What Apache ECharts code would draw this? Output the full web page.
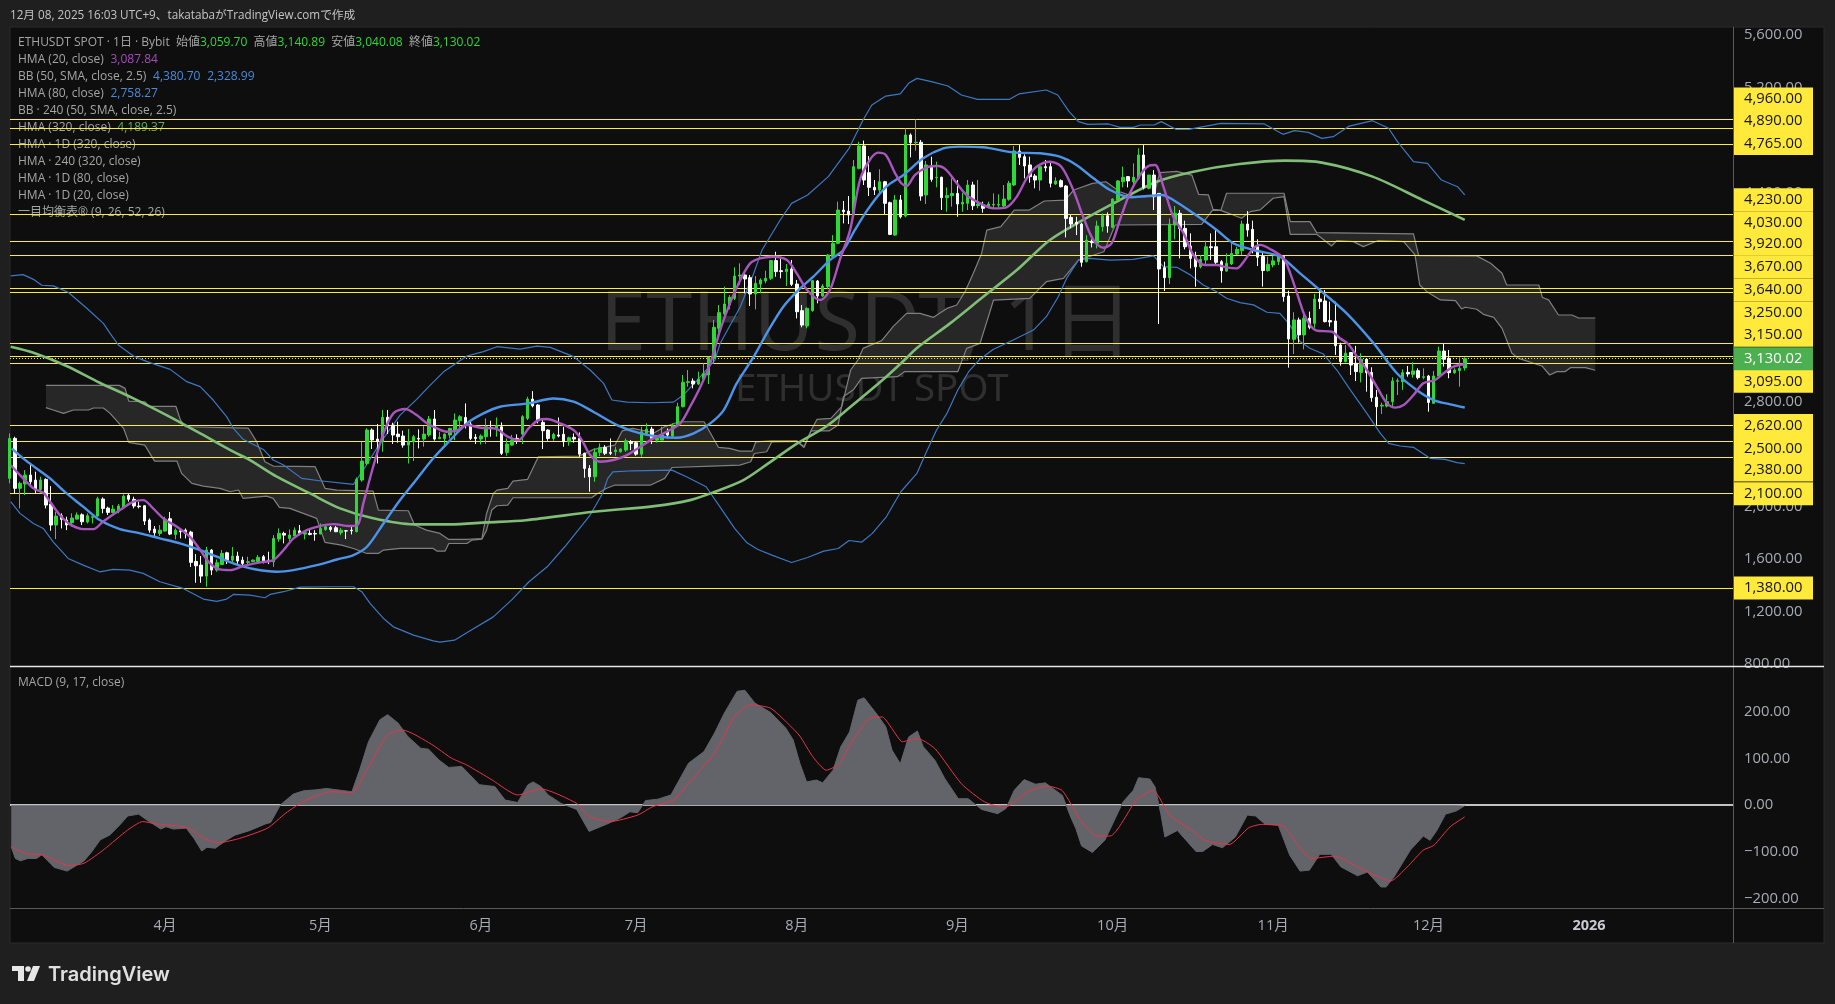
<!DOCTYPE html>
<html>
<head>
<meta charset="utf-8">
<title>ETHUSDT</title>
<style>
  html, body { margin: 0; padding: 0; background: #1f1f1f; }
  #chart { width: 1835px; height: 1004px; }
</style>
<script src="https://cdn.jsdelivr.net/npm/echarts@6/dist/echarts.min.js"></script>
</head>
<body>
<div id="chart"></div>
<script>
// daily candles from 2025-03-02, one row per day: open, close, low, high
const candles = [
  [2217,2522,2179,2560],[2522,2141,2102,2535],[2141,2179,1988,2191],[2174,2242,2090,2280],[2242,2191,2158,2331],
  [2204,2128,2102,2268],[2133,2204,2102,2230],[2209,2013,1988,2217],[2021,1861,1817,2158],[1861,1929,1754,1962],
  [1932,1904,1835,1950],[1899,1861,1822,1924],[1878,1914,1848,1950],[1906,1937,1904,1957],[1939,1886,1861,1950],
  [1884,1932,1873,1950],[1920,1924,1873,1937],[1929,2062,1924,2077],[2059,1988,1950,2072],[1990,1957,1937,2001],
  [1957,1983,1950,2013],[1968,2006,1950,2021],[1995,2082,1988,2095],[2087,2057,2039,2097],[2057,2006,1988,2077],
  [2006,2001,1988,2039],[2008,1891,1861,2013],[1899,1822,1802,1911],[1830,1802,1772,1853],[1797,1822,1777,1861],
  [1815,1904,1810,1924],[1909,1792,1784,1960],[1789,1822,1751,1835],[1817,1810,1759,1835],[1822,1797,1759,1835],
  [1807,1576,1542,1817],[1583,1550,1420,1639],[1555,1471,1420,1624],[1471,1670,1390,1695],[1670,1517,1479,1677],
  [1517,1573,1504,1598],[1560,1644,1555,1670],[1649,1593,1563,1657],[1593,1624,1568,1693],[1624,1586,1555,1657],
  [1593,1568,1542,1619],[1576,1581,1555,1619],[1583,1593,1576,1598],[1583,1614,1578,1632],[1619,1586,1568,1632],
  [1593,1588,1563,1657],[1581,1759,1542,1784],[1754,1797,1733,1835],[1797,1784,1721,1810],[1759,1784,1738,1827],
  [1777,1822,1777,1843],[1817,1797,1784,1861],[1792,1802,1751,1817],[1797,1789,1782,1835],[1797,1792,1741,1822],
  [1792,1835,1792,1873],[1827,1848,1817,1861],[1843,1827,1810,1853],[1840,1810,1807,1853],[1802,1822,1784,1838],
  [1817,1815,1754,1822],[1822,1817,1789,1848],[1810,2209,1805,2225],[2204,2349,2191,2497],[2331,2586,2319,2599],
  [2586,2510,2441,2599],[2517,2497,2331,2632],[2497,2683,2420,2739],[2683,2617,2555,2739],[2624,2548,2479,2642],
  [2555,2535,2489,2650],[2540,2471,2451,2581],[2471,2497,2331,2594],[2497,2535,2349,2548],[2522,2517,2446,2591],
  [2517,2555,2459,2616],[2548,2670,2535,2693],[2670,2517,2505,2739],[2520,2530,2517,2573],[2522,2555,2464,2560],
  [2548,2598,2522,2603],[2581,2662,2509,2713],[2657,2688,2586,2700],[2682,2624,2598,2789],[2632,2522,2509,2649],
  [2530,2522,2479,2555],[2517,2540,2476,2553],[2535,2611,2479,2675],[2606,2598,2535,2657],[2598,2619,2535,2682],
  [2611,2408,2395,2644],[2415,2479,2390,2522],[2471,2509,2466,2548],[2522,2504,2479,2553],[2555,2688,2479,2700],
  [2675,2822,2662,2840],[2822,2771,2759,2883],[2777,2657,2637,2784],[2644,2581,2441,2675],[2586,2522,2504,2591],
  [2522,2553,2504,2565],[2548,2540,2530,2682],[2553,2497,2458,2611],[2497,2527,2466,2535],[2530,2517,2489,2560],
  [2522,2402,2382,2568],[2408,2293,2222,2413],[2293,2229,2115,2318],[2229,2415,2191,2446],[2415,2453,2387,2484],
  [2453,2408,2395,2471],[2415,2408,2395,2522],[2420,2433,2390,2458],[2420,2441,2413,2446],[2433,2504,2420,2522],
  [2497,2484,2433,2509],[2489,2402,2390,2502],[2402,2573,2382,2611],[2560,2593,2547,2637],[2593,2522,2479,2611],
  [2509,2522,2489,2548],[2509,2548,2509,2611],[2573,2548,2522,2598],[2540,2624,2530,2637],[2624,2764,2611,2794],
  [2764,2950,2759,3006],[2950,2955,2917,3044],[2960,2937,2904,2980],[2937,2975,2929,3031],[2975,3018,2967,3095],
  [3006,3141,2937,3146],[3133,3370,3090,3426],[3362,3482,3311,3540],[3471,3548,3438,3680],[3540,3599,3507,3616],
  [3591,3761,3578,3828],[3761,3769,3693,3858],[3769,3739,3629,3782],[3749,3624,3532,3769],[3624,3706,3507,3761],
  [3700,3731,3629,3744],[3723,3744,3706,3802],[3744,3879,3731,3884],[3879,3795,3756,3947],[3802,3795,3744,3896],
  [3795,3815,3685,3853],[3815,3698,3685,3884],[3700,3489,3438,3731],[3497,3387,3370,3540],[3380,3515,3362,3522],
  [3497,3726,3489,3731],[3723,3609,3553,3731],[3609,3685,3604,3700],[3680,3922,3660,3929],[3909,4011,3896,4074],
  [4011,4265,4006,4329],[4265,4252,4163,4334],[4257,4227,4158,4372],[4227,4596,4214,4647],[4583,4754,4576,4787],
  [4754,4494,4456,4795],[4550,4438,4372,4677],[4438,4418,4380,4494],[4418,4481,4380,4576],[4481,4316,4235,4487],
  [4321,4079,4074,4329],[4074,4342,4067,4380],[4342,4214,4201,4380],[4219,4838,4209,4889],[4838,4779,4667,4850],
  [4779,4782,4718,4957],[4782,4372,4336,4800],[4380,4609,4311,4639],[4596,4499,4481,4672],[4512,4515,4438,4634],
  [4515,4359,4265,4520],[4359,4375,4252,4438],[4375,4392,4291,4507],[4392,4311,4214,4494],[4311,4324,4252,4397],
  [4316,4456,4265,4494],[4456,4298,4265,4481],[4298,4311,4278,4494],[4303,4278,4245,4329],[4285,4311,4278,4329],
  [4303,4308,4278,4392],[4303,4308,4278,4385],[4296,4349,4278,4456],[4347,4469,4336,4487],[4456,4716,4448,4754],
  [4716,4667,4609,4761],[4672,4601,4507,4690],[4609,4520,4474,4672],[4525,4494,4431,4540],[4494,4596,4413,4609],
  [4596,4588,4558,4647],[4596,4469,4438,4634],[4464,4487,4456,4515],[4489,4443,4438,4499],[4448,4201,4056,4456],
  [4209,4158,4125,4227],[4171,4158,4074,4214],[4158,3866,3832,4168],[3871,4036,3866,4074],[4026,4016,3980,4041],
  [4011,4143,3972,4184],[4138,4222,4100,4240],[4222,4143,4092,4247],[4133,4349,4125,4354],[4342,4487,4334,4494],
  [4481,4515,4438,4596],[4520,4487,4438,4525],[4481,4515,4438,4621],[4507,4685,4494,4736],[4685,4438,4423,4761],
  [4431,4532,4423,4532],[4532,4367,4265,4570],[4392,3815,3395,4392],[3825,3749,3647,3871],[3749,4158,3700,4201],
  [4151,4240,4041,4296],[4240,4125,3896,4265],[4125,3985,3965,4184],[3990,3896,3820,4087],[3909,3832,3680,3947],
  [3832,3888,3820,3922],[3883,3985,3845,4031],[3985,3978,3883,4087],[3985,3866,3845,4112],[3871,3802,3710,3883],
  [3799,3858,3795,3934],[3853,3934,3845,4023],[3929,3965,3922,3985],[3955,4158,3922,4184],[4158,4112,4062,4257],
  [4118,3986,3935,4184],[3986,3905,3838,4042],[3910,3803,3681,3948],[3803,3851,3795,3910],[3846,3877,3828,3915],
  [3871,3910,3846,3922],[3910,3604,3566,3915],[3609,3281,3062,3650],[3278,3426,3166,3485],[3426,3312,3253,3444],
  [3312,3439,3202,3490],[3439,3370,3355,3490],[3400,3586,3367,3625],[3586,3566,3510,3660],[3571,3413,3408,3655],
  [3421,3411,3375,3566],[3418,3230,3159,3566],[3235,3108,3077,3253],[3108,3172,3103,3235],[3177,3082,3006,3179],
  [3095,3032,2960,3228],[3026,3126,2950,3172],[3126,3024,2879,3133],[3026,2833,2802,3065],[2836,2764,2624,2892],
  [2769,2775,2708,2795],[2769,2802,2759,2859],[2802,2960,2769,2988],[2958,2963,2853,2981],[2955,3024,2892,3049],
  [3026,3014,2993,3075],[3011,3037,2986,3103],[3039,2986,2973,3057],[2988,2993,2973,3057],[2998,2797,2726,3006],
  [2790,2998,2785,3037],[2998,3189,2993,3223],[3189,3126,3070,3243],[3133,3024,2981,3197],[3024,3044,3014,3057],
  [3039,3057,2917,3141],[3059.70,3130.02,3040.08,3140.89]
]

const hma20 = [[1.2,2319],[3,2242],[5.6,2141],[7.5,2107],[8.8,2039],[10.7,1937],[12.6,1868],[15.2,1830],[17.2,1830],[19,1886],[22.3,1975],[24.9,2039],[26.8,2051],[28.7,1988],[30.7,1911],[33.3,1848],[35.8,1772],[37.8,1670],[39.7,1568],[41.6,1522],[43.6,1517],[46.1,1548],[49.4,1576],[51.9,1593],[53.9,1670],[55.8,1759],[58.4,1822],[60.9,1853],[63.5,1868],[66.7,1853],[68.2,1861],[69.3,2026],[71.2,2306],[73.2,2560],[75.1,2713],[77.4,2746],[79.6,2700],[81.6,2637],[83.5,2598],[85.4,2573],[87.3,2581],[89.3,2624],[91.9,2603],[95.1,2593],[97,2540],[99.3,2509],[101.2,2598],[103.1,2662],[104.7,2670],[107.3,2637],[109.9,2586],[111.5,2509],[113.1,2395],[115,2344],[117.6,2357],[120.2,2395],[122.8,2458],[125.3,2522],[127.9,2573],[130.5,2637],[132.4,2764],[134.4,2917],[136.3,3095],[138.2,3349],[140.1,3553],[142.1,3731],[144,3858],[145.9,3896],[148.5,3909],[151.1,3884],[153,3782],[155,3655],[157.5,3578],[159.4,3654],[161.3,3883],[163.3,4112],[165.2,4494],[167.1,4647],[168.7,4703],[170.2,4685],[172,4545],[173.2,4469],[174.2,4448],[175.8,4532],[178.1,4591],[180.3,4601],[181.9,4570],[183.9,4469],[185.8,4380],[188.4,4316],[191,4278],[193.5,4286],[195.5,4367],[197.4,4507],[199.3,4596],[201.9,4634],[204.1,4596],[206.4,4418],[208.3,4214],[210.3,4036],[212.2,3977],[213.8,4011],[215.4,4189],[217.3,4392],[219.3,4532],[220.9,4601],[222.2,4609],[223.8,4443],[225.7,4214],[227.7,4087],[229.6,3922],[231.8,3845],[234.1,3845],[236,3827],[238,3820],[239.3,3871],[241.2,3973],[242.5,3999],[244.4,3968],[247,3897],[248.3,3782],[249.6,3630],[250.9,3477],[252.1,3388],[253.4,3345],[256.3,3337],[257.9,3286],[259.5,3243],[261.2,3146],[263.1,3044],[265,2917],[267,2790],[268.6,2757],[270.2,2777],[272.1,2853],[274,2943],[276.3,2968],[277.9,3019],[279.8,3070],[282,3087.84]]
const hma80 = [[1.4,2446],[3.6,2370],[6.2,2293],[8.8,2217],[12,2102],[15.2,2001],[18.4,1899],[22.3,1830],[26.2,1797],[30,1759],[33.9,1721],[37.8,1670],[41,1619],[44.2,1568],[48.1,1525],[52.6,1504],[55.8,1517],[60.3,1555],[64.2,1598],[67.4,1632],[70,1695],[73.2,1873],[76.4,2052],[79.6,2210],[82.8,2370],[86,2505],[89.3,2637],[92.5,2713],[95.7,2764],[101.2,2789],[106,2827],[109.9,2802],[113.7,2726],[118.3,2624],[122.8,2560],[126.6,2535],[129.8,2527],[133.1,2560],[136.3,2637],[138.9,2738],[141.4,2942],[144.7,3146],[147.2,3324],[150.4,3527],[153.6,3665],[156.2,3756],[159.4,3883],[162,3960],[164.2,4112],[167.1,4291],[170.3,4443],[173.6,4532],[177.4,4660],[181.3,4736],[184.5,4749],[189,4744],[194.8,4705],[200,4698],[203.8,4672],[207,4609],[210.3,4507],[213.5,4418],[217.4,4362],[220.6,4372],[223.5,4380],[225.7,4342],[229.6,4240],[234.1,4113],[237.3,4011],[241.2,3960],[246.3,3910],[250.2,3782],[254,3655],[259.2,3477],[264.4,3248],[268.9,3019],[272.7,2892],[276,2815],[279.2,2782],[282,2758.27]]
const bbUpper = [[1.2,3762],[3.6,3772],[5.6,3736],[7.2,3691],[9.4,3686],[12.3,3637],[15.9,3515],[19.1,3400],[20.4,3324],[22,3235],[24.9,3151],[27.5,3108],[32,3049],[35.2,2955],[37.8,2917],[40.3,2815],[42.9,2688],[44.2,2599],[46.1,2515],[50,2438],[51.9,2357],[53.9,2319],[57.4,2217],[60.9,2199],[67.4,2171],[69.3,2281],[72.5,2484],[76.4,2700],[79.6,2820],[81.9,2915],[84.8,3030],[89.3,3151],[92.5,3184],[95.1,3222],[99.6,3204],[102.8,3227],[105.4,3217],[109.9,3146],[113.1,3044],[115.7,2942],[117.3,2815],[120.2,2799],[124.7,2794],[129.2,2799],[131.1,2853],[133.8,2967],[137.2,3120],[138.2,3247],[142.1,3527],[144.7,3782],[146.3,3960],[149.8,4189],[152,4316],[155.1,4380],[159.1,4520],[163.1,4736],[165.8,4952],[167.5,5067],[170.2,5135],[173,5151],[174.6,5232],[176.2,5270],[179,5245],[182.2,5212],[184.8,5143],[187.9,5110],[194.1,5110],[195.9,5151],[201.2,5181],[203.4,5143],[205.6,5016],[207.4,4940],[209.2,4919],[213.2,4922],[215.4,4896],[218,4896],[219.4,4914],[222,4914],[223.4,4940],[226.2,4881],[228.7,4881],[234.9,4927],[243.3,4922],[246.9,4843],[249.1,4871],[251.8,4858],[254.4,4812],[256.6,4825],[259.7,4906],[264.2,4947],[267.3,4889],[269,4787],[272.1,4634],[274.8,4621],[277.5,4494],[280.6,4443],[282,4380.70]]
const bbLower = [[1.2,2039],[3,1950],[5.6,1873],[7.5,1835],[9.4,1733],[12.3,1606],[15.2,1555],[18.4,1504],[21,1522],[24.2,1517],[26.8,1492],[30,1428],[34.5,1377],[38.4,1296],[41,1278],[42.9,1296],[44.2,1331],[47.4,1326],[50.3,1306],[51.3,1331],[53.9,1352],[57.1,1387],[63.5,1390],[67.4,1390],[69,1352],[70.6,1263],[73.2,1148],[75.1,1084],[79,1021],[82.8,977],[84.1,967],[86.9,982],[89.6,1046],[94.4,1160],[97.9,1288],[101.3,1428],[104.8,1542],[108.2,1695],[113.1,1937],[115.5,2102],[116.5,2217],[117.5,2267],[121.3,2275],[128.9,2280],[131.7,2229],[135.5,2153],[138.6,1975],[141,1835],[143.4,1725],[145.5,1674],[148.2,1631],[152,1575],[155.1,1613],[158.2,1662],[161,1682],[163.1,1743],[165.5,1730],[167.6,1797],[170.3,1924],[173.1,2115],[176.2,2255],[177.9,2407],[180,2586],[182,2713],[184.1,2891],[186.2,3031],[188.2,3120],[190.9,3201],[194.8,3273],[198.7,3349],[201.2,3451],[203.5,3603],[205.1,3743],[207.4,3883],[209.6,3896],[213.5,3883],[218,3888],[221.9,3915],[223.8,3833],[226.4,3828],[229,3770],[231.5,3693],[234.1,3642],[236,3592],[238.6,3558],[241.2,3541],[243.8,3485],[246.3,3477],[248,3400],[250.2,3261],[252.1,3210],[254.7,3166],[257.3,3044],[259.9,2892],[263.1,2713],[265.7,2561],[267.3,2484],[269.5,2464],[272.1,2454],[275.3,2370],[278.2,2362],[280.5,2337],[282,2328.99]]
const hma320 = [[1.2,3222],[5.6,3176],[12,3075],[18.4,2947],[24.9,2828],[31.3,2700],[37.8,2561],[44.2,2421],[47.4,2357],[52.6,2230],[59,2102],[64.8,1988],[71.2,1912],[79,1866],[86,1866],[93.1,1881],[100.7,1898],[113.8,1962],[125.5,2005],[132.4,2051],[137.2,2115],[142.7,2204],[147.5,2331],[153.1,2484],[158.6,2611],[163.4,2764],[170.3,2993],[173.8,3120],[176.1,3209],[182.6,3400],[189,3603],[195.5,3807],[201.9,4036],[208.3,4189],[214.8,4329],[222.5,4481],[229.6,4558],[238.5,4616],[247.3,4642],[254.4,4627],[264.2,4520],[273.9,4341],[282,4189.37]]
const cloudTop = [[8,2927],[22.2,2927],[23.3,2904],[24,2807],[27.1,2802],[27.9,2767],[33.1,2767],[34,2662],[34.9,2611],[47.1,2600],[48.7,2497],[50.3,2344],[51.9,2311],[60,2306],[61.9,2141],[64.2,2128],[71.2,2120],[72.2,1975],[78,1970],[79.2,1861],[81.5,1822],[84.1,1797],[85.8,1751],[89.3,1751],[92.2,1758],[93.1,1949],[94.4,2102],[95.1,2127],[97.2,2140],[98.2,2196],[101,2209],[103.1,2382],[111,2387],[113.8,2438],[117.9,2471],[119.3,2580],[121.3,2598],[125.5,2565],[127.5,2611],[130.3,2649],[135.1,2649],[137.9,2453],[140,2446],[142,2425],[144.4,2425],[145.1,2496],[148.2,2504],[153,2504],[154.4,2458],[155.8,2586],[156.9,2667],[159.6,2675],[161.7,2764],[163.4,3044],[164.8,3120],[165.8,3209],[169.4,3268],[171.6,3375],[174.2,3476],[176.8,3476],[179.4,3446],[182,3514],[183.9,3540],[185.5,3642],[187.1,3782],[188.7,3934],[189.7,4112],[192.4,4138],[195,4265],[197.9,4265],[200.8,4334],[204.8,4341],[206.5,4418],[210.1,4469],[212.7,4481],[215.4,4405],[218,4367],[221.9,4367],[223.1,4550],[226.4,4560],[229.3,4532],[230.6,4385],[232.5,4380],[233.4,4270],[234.9,4262],[236,4393],[247.1,4393],[248.3,4177],[252.1,4177],[253.4,4093],[272.1,4083],[273.1,3917],[284.3,3915],[287,3859],[289.2,3782],[290.1,3693],[296.3,3693],[297,3597],[298.2,3579],[300.1,3464],[302.7,3464],[304,3441],[307.2,3441]]
const cloudBottom = [[8,2757],[9.4,2739],[11.4,2713],[13.3,2739],[16.2,2739],[17.2,2754],[19.1,2754],[20.4,2713],[23,2599],[24,2492],[27.1,2471],[29,2349],[33.3,2349],[34.2,2255],[36.2,2179],[38.4,2158],[41.6,2141],[43.6,2115],[45.2,2128],[46.1,2064],[50.6,2082],[51.9,2064],[53.1,1995],[55.1,1988],[60.3,1912],[61.9,1728],[65.1,1708],[67.4,1682],[70,1644],[72.2,1644],[73.2,1670],[76.4,1682],[82.8,1682],[83.5,1662],[85.1,1662],[85.8,1720],[89.3,1720],[90.3,1746],[92.2,1753],[93.1,1822],[94.1,1975],[95.1,2008],[97.2,2013],[98.2,2069],[113.4,2069],[114.4,2097],[116.2,2140],[117.9,2166],[124.8,2166],[127.5,2217],[128.9,2300],[136.5,2311],[142,2318],[144.1,2344],[144.8,2407],[147.2,2420],[148.2,2496],[153,2500],[154.4,2453],[155.8,2580],[159.3,2580],[161,2624],[162,2840],[164,2896],[165.5,2980],[172.4,2993],[173.8,3031],[184.1,3031],[185.8,3209],[188.4,3247],[191,3578],[198,3591],[201.2,3718],[204.5,3743],[207.4,3883],[212.3,3947],[214.5,4151],[231.2,4156],[233.3,4265],[234.9,4262],[236.4,4240],[238.9,4202],[240.6,4253],[242.5,4266],[245,4355],[247.1,4368],[248.3,4080],[253.4,4080],[256.3,3991],[257.3,4032],[260.5,4024],[262.4,3986],[265.3,4032],[270.2,4024],[272.4,3922],[273.3,3693],[274.7,3642],[277.3,3579],[280.2,3574],[281.4,3510],[282.1,3523],[284.3,3508],[285.6,3469],[287.6,3446],[289.2,3362],[291.1,3172],[292.4,3133],[296.9,3075],[298.4,3006],[299.8,3032],[301.4,3032],[302.4,3062],[305.3,3062],[307.2,3042]]
const macdLine = [[1.3,-89],[2.1,-114],[3.1,-119],[4.5,-114],[6.2,-114],[7.2,-106],[9.6,-133],[12.1,-141],[13.9,-129],[15.4,-119],[16.9,-99],[18.5,-74],[20.3,-64],[22.3,-42],[23.8,-23],[25.9,-19],[27.7,-33],[30.2,-51],[31.2,-46],[32.6,-51],[35.1,-49],[36.6,-71],[38.1,-98],[39.1,-90],[40.7,-92],[43,-74],[44.5,-64],[47.4,-54],[50.4,-40],[51.4,-37],[53.3,1],[55.8,24],[57.8,31],[60.2,33],[62.2,36],[64.2,33],[67.1,29],[68.6,76],[70.3,136],[72.5,183],[74,194],[76,176],[77.9,147],[80.4,122],[81.9,120],[83.9,97],[85.8,81],[88.3,83],[89.8,66],[91.7,44],[94.7,40],[96.7,11],[99.1,6],[101.1,44],[102.1,50],[103.6,40],[105,22],[107.5,4],[110.5,-9],[112.9,-56],[116.4,-40],[118.8,-28],[120.8,-14],[122.3,-16],[123.8,10],[126.2,13],[128.7,22],[132.1,90],[135.1,115],[137.1,154],[139,197],[141.5,244],[143,246],[144.9,219],[147.9,199],[150.9,165],[152.3,140],[153.6,90],[154.9,50],[156.8,54],[158,48],[160,75],[161.5,125],[163.2,157],[164.8,225],[166,230],[168.6,193],[170.2,168],[171.4,118],[173,89],[174.6,146],[176.3,159],[177.4,126],[179.7,96],[181.6,57],[184.2,14],[186.1,14],[188.7,-9],[191.8,-18],[193.4,-7],[195,32],[196.9,55],[199.1,45],[201,48],[204.3,21],[205.9,-25],[206.9,-50],[208,-87],[210.1,-101],[212.5,-75],[216,7],[218,32],[219,59],[221.2,56],[222.2,39],[223.3,-18],[224.1,-68],[226.5,-54],[230.1,-99],[231.4,-99],[233.3,-84],[235.2,-91],[237.7,-68],[240,-21],[241.6,-23],[243.5,-41],[246,-43],[248.2,-107],[250.2,-141],[252,-139],[254,-105],[256.2,-105],[258.1,-132],[261.3,-151],[263.2,-143],[265.8,-175],[266.8,-175],[268.3,-154],[271.5,-96],[274,-66],[275.3,-75],[276.6,-54],[278.3,-19],[280.4,-12],[282,-1]]
const macdSignal = [[1.3,-89],[4,-103],[7.5,-107],[12.4,-129],[15.4,-124],[19.3,-94],[23.8,-53],[26.7,-35],[29.7,-41],[35.1,-47],[38.5,-71],[41.5,-80],[45.4,-71],[50.8,-49],[54.3,-17],[58.2,11],[63.2,29],[67.1,27],[70,76],[74,151],[76.9,161],[82.4,131],[86.3,101],[89.3,86],[94.2,54],[99.1,22],[103.6,35],[110.5,4],[112.9,-24],[116.9,-35],[122.3,-21],[125.2,-3],[129.2,11],[132.1,47],[137.1,111],[141,190],[144,215],[147.9,208],[151.3,175],[153.6,148],[156.1,104],[158.7,75],[161.2,89],[163.8,139],[167,186],[169.5,189],[171.4,164],[173.4,136],[176.3,143],[179.7,121],[184.8,46],[189.3,7],[193.1,-5],[197.6,29],[201.4,41],[204.3,31],[207.8,-32],[211,-66],[213.5,-66],[218.6,11],[221.8,32],[225,-21],[228.8,-50],[232,-76],[236.5,-84],[240.3,-48],[242.8,-41],[246.6,-43],[252.4,-114],[256.8,-109],[262,-136],[267.7,-162],[270.9,-132],[274,-96],[276,-86],[279.2,-46],[282,-25]]

// horizontal levels and the axis ticks
const levels = [4960,4890,4765,4230,4030,3920,3670,3640,3250,3150,3095,2620,2500,2380,2100,1380]
const lastClose = 3130.02
const priceTicks = [800,1200,1600,2000,2800,4400,5200,5600]
const macdTicks = [-200,-100,0,100,200]
const monthTicks = ['2025-04-01','2025-05-01','2025-06-01','2025-07-01','2025-08-01','2025-09-01','2025-10-01','2025-11-01','2025-12-01','2026-01-01']

// the tags on the price scale are pushed apart so they do not overlap
const tagShift = {4960:-20,4890:-7,4765:-1,4230:-15,4030:-18,3920:-11,3670:-21,3640:-2,3250:-30,3150:-21,3095:18,2500:7,2380:13}

// x is the candle number, candle 1 is 2025-03-02
const DAY = 86400000
const dayZero = Date.UTC(2025, 2, 1)
const dateToX = s => (Date.parse(s + 'T00:00:00Z') - dayZero) / DAY
const fmtPrice = v => v.toLocaleString('en-US', { minimumFractionDigits: 2, maximumFractionDigits: 2 }).replace('-', '\u2212')

const X_MIN = 1.07, X_MAX = 333.8
const FONT = '"Open Sans", "Noto Sans CJK JP", sans-serif'
const GREEN = '#2fd836', PURPLE = '#a855bd', BLUE = '#4c94ea', BAND = '#3c78c4', SAGE = '#80bd76'
const AXIS_TEXT = '#a9acb4'

function lineSeries(name, points, color, width, axisIdx, extra) {
  return Object.assign({
    name, type: 'line', data: points, xAxisIndex: axisIdx, yAxisIndex: axisIdx,
    showSymbol: false, silent: true, lineStyle: { color, width }, z: 5
  }, extra)
}

// price levels with yellow tags, plus the last close
const levelMarks = levels.map(v => ({
  yAxis: v,
  lineStyle: { color: '#ffeb3b', width: 1.2, type: 'solid' },
  label: {
    show: true, position: 'end', distance: 1, offset: [0, tagShift[v] || 0],
    formatter: fmtPrice(v), color: '#131313', backgroundColor: '#ffe93b',
    fontFamily: FONT, fontSize: 14.8, padding: [3, 7, 3, 10], width: 62, lineHeight: 17
  }
}))
levelMarks.push({
  yAxis: lastClose,
  lineStyle: { color: '#d8d8d8', width: 1, type: [1, 2] },
  label: {
    show: true, position: 'end', distance: 1,
    formatter: fmtPrice(lastClose), color: '#fff', backgroundColor: '#4caf50',
    fontFamily: FONT, fontSize: 14.8, padding: [3, 7, 3, 10], width: 62, lineHeight: 17
  }
})

// ichimoku fill: one polygon running out along the top edge and back along the bottom
function drawCloud(params, api) {
  const edge = cloudTop.concat(cloudBottom.slice().reverse())
  return {
    type: 'polygon',
    shape: { points: edge.map(p => api.coord(p)) },
    style: { fill: '#272727' }
  }
}

const legendRows = [
  ['{n|ETHUSDT SPOT \u00b7 1\u65e5 \u00b7 Bybit  \u59cb\u5024}{g|3,059.70}{n|  \u9ad8\u5024}{g|3,140.89}{n|  \u5b89\u5024}{g|3,040.08}{n|  \u7d42\u5024}{g|3,130.02}'],
  ['{n|HMA (20, close)}  {p|3,087.84}'],
  ['{n|BB (50, SMA, close, 2.5)}  {b|4,380.70}  {b|2,328.99}'],
  ['{n|HMA (80, close)}  {b|2,758.27}'],
  ['{n|BB \u00b7 240 (50, SMA, close, 2.5)}'],
  ['{n|HMA (320, close)}  {s|4,189.37}'],
  ['{n|HMA \u00b7 1D (320, close)}'],
  ['{n|HMA \u00b7 240 (320, close)}'],
  ['{n|HMA \u00b7 1D (80, close)}'],
  ['{n|HMA \u00b7 1D (20, close)}'],
  ['{n|\u4e00\u76ee\u5747\u8861\u8868\u00ae (9, 26, 52, 26)}']
]
const legendText = color => ({ color, fontFamily: FONT, fontSize: 12, fontWeight: 'normal' })
const richText = {
  n: legendText('#a5a5a5'),
  g: legendText(GREEN),
  p: legendText('#a64bbd'),
  b: legendText('#4a8ad8'),
  s: legendText('#62ad62')
}
const titles = legendRows.map((row, i) => ({
  text: row[0], left: 18, top: 37 + i * 17, padding: 0, z: 1,
  textStyle: { rich: richText, fontSize: 12, fontWeight: 'normal' }
}))
titles.push({
  text: '{n|MACD (9, 17, close)}', left: 18, top: 677, padding: 0, z: 1,
  textStyle: { rich: richText, fontSize: 12, fontWeight: 'normal' }
})

const chart = echarts.init(document.getElementById('chart'), null, { renderer: 'canvas' })
chart.setOption({
  animation: false,
  backgroundColor: '#1f1f1f',
  title: titles,
  grid: [
    { left: 10, right: 102, top: 27, height: 639 },
    { left: 10, right: 102, top: 667, height: 241 }
  ],
  xAxis: [
    { type: 'value', gridIndex: 0, min: X_MIN, max: X_MAX, show: false, splitLine: { show: false } },
    {
      type: 'value', gridIndex: 1, min: X_MIN, max: X_MAX,
      axisLine: { show: false }, axisTick: { show: false }, splitLine: { show: false },
      axisLabel: {
        customValues: monthTicks.map(dateToX),
        margin: 11, color: AXIS_TEXT, fontFamily: FONT, fontSize: 14.5,
        formatter: v => {
          const d = new Date(dayZero + v * DAY)
          return d.getUTCMonth() === 0 ? '{y|' + d.getUTCFullYear() + '}' : (d.getUTCMonth() + 1) + '\u6708'
        },
        rich: { y: { color: '#c8cad0', fontFamily: FONT, fontSize: 14.5, fontWeight: 'bold' } }
      }
    }
  ],
  yAxis: [
    {
      type: 'value', gridIndex: 0, position: 'right', min: 785, max: 5662,
      axisLine: { show: false }, axisTick: { show: false }, splitLine: { show: false },
      axisLabel: { customValues: priceTicks, margin: 11, color: AXIS_TEXT, fontFamily: FONT, fontSize: 14.8, formatter: fmtPrice }
    },
    {
      type: 'value', gridIndex: 1, position: 'right', min: -220, max: 296,
      axisLine: { show: false }, axisTick: { show: false }, splitLine: { show: false },
      axisLabel: { customValues: macdTicks, margin: 11, color: AXIS_TEXT, fontFamily: FONT, fontSize: 14.8, formatter: fmtPrice }
    }
  ],
  graphic: [
    { type: 'rect', z: -10, shape: { x: 10, y: 27, width: 1814, height: 916 }, style: { fill: '#0e0e0e', stroke: '#2b2b2b', lineWidth: 1 } },
    { type: 'text', z: -5, left: 600, top: 285, style: { text: 'ETHUSDT, 1\u65e5', fill: '#2f2f2f', font: '83px "Noto Sans", "Noto Sans CJK JP"' } },
    { type: 'text', z: -5, left: 735, top: 371, style: { text: 'ETHUSDT SPOT', fill: '#2f2f2f', font: '38.5px "Noto Sans"' } },
    { type: 'line', z: 20, shape: { x1: 1733.5, y1: 27, x2: 1733.5, y2: 943 }, style: { stroke: '#5a5a5a', lineWidth: 1 } },
    { type: 'line', z: 20, shape: { x1: 10, y1: 908.5, x2: 1824, y2: 908.5 }, style: { stroke: '#5a5a5a', lineWidth: 1 } },
    { type: 'line', z: 20, shape: { x1: 10, y1: 666.5, x2: 1824, y2: 666.5 }, style: { stroke: '#e8e8e8', lineWidth: 1.3 } },
    { type: 'text', left: 10, top: 10, style: { text: '12\u6708 08, 2025 16:03 UTC+9\u3001takataba\u304cTradingView.com\u3067\u4f5c\u6210', fill: '#c4c4c4', font: '11.7px "Open Sans", "Noto Sans CJK JP"' } },
    { type: 'rect', shape: { x: 12, y: 966, width: 12, height: 5 }, style: { fill: '#e6e6e6' } },
    { type: 'rect', shape: { x: 18, y: 966, width: 6, height: 15 }, style: { fill: '#e6e6e6' } },
    { type: 'circle', shape: { cx: 28, cy: 969, r: 2.8 }, style: { fill: '#e6e6e6' } },
    { type: 'polygon', shape: { points: [[33, 966], [40, 966], [34, 981], [27, 981]] }, style: { fill: '#e6e6e6' } },
    { type: 'text', left: 48, top: 965, style: { text: 'TradingView', fill: '#e0e0e0', font: '600 20px Inter, "Noto Sans"' } }
  ],
  series: [
    {
      name: 'cloud', type: 'custom', renderItem: drawCloud, silent: true, z: 2,
      xAxisIndex: 0, yAxisIndex: 0, data: [cloudTop[0]], encode: { x: 0, y: 1 }
    },
    lineSeries('Span top', cloudTop, '#808080', 1.2, 0, { z: 3 }),
    lineSeries('Span bottom', cloudBottom, '#808080', 1.2, 0, { z: 3 }),
    lineSeries('BB upper', bbUpper, BAND, 1.2, 0),
    lineSeries('BB lower', bbLower, BAND, 1.2, 0),
    lineSeries('HMA 320', hma320, SAGE, 2.6, 0, { smooth: 0.3 }),
    {
      name: 'ETHUSDT', type: 'candlestick', xAxisIndex: 0, yAxisIndex: 0, barWidth: 3, z: 6, silent: true,
      data: candles.map((c, i) => [i + 1, c[0], c[1], c[2], c[3]]),
      itemStyle: { color: GREEN, color0: '#ffffff', borderColor: GREEN, borderColor0: '#ffffff', borderWidth: 1 }
    },
    lineSeries('HMA 80', hma80, BLUE, 2.4, 0, { z: 7, smooth: 0.3 }),
    lineSeries('HMA 20', hma20, PURPLE, 2.4, 0, { z: 8, smooth: 0.3 }),
    {
      name: 'levels', type: 'line', xAxisIndex: 0, yAxisIndex: 0, z: 10, silent: true, showSymbol: false,
      data: [[candles.length, lastClose]], lineStyle: { width: 0 },
      markLine: { symbol: 'none', silent: true, animation: false, data: levelMarks }
    },
    lineSeries('MACD', macdLine, '#63646a', 1, 1, {
      areaStyle: { color: '#63646a', opacity: 1 },
      markLine: {
        symbol: 'none', silent: true, animation: false, label: { show: false },
        lineStyle: { color: '#ffffff', width: 1.6, type: 'solid' }, data: [{ yAxis: 0 }]
      }
    }),
    lineSeries('Signal', macdSignal, '#e8344a', 1, 1, { z: 6, smooth: 0.2 })
  ]
})
</script>
</body>
</html>
